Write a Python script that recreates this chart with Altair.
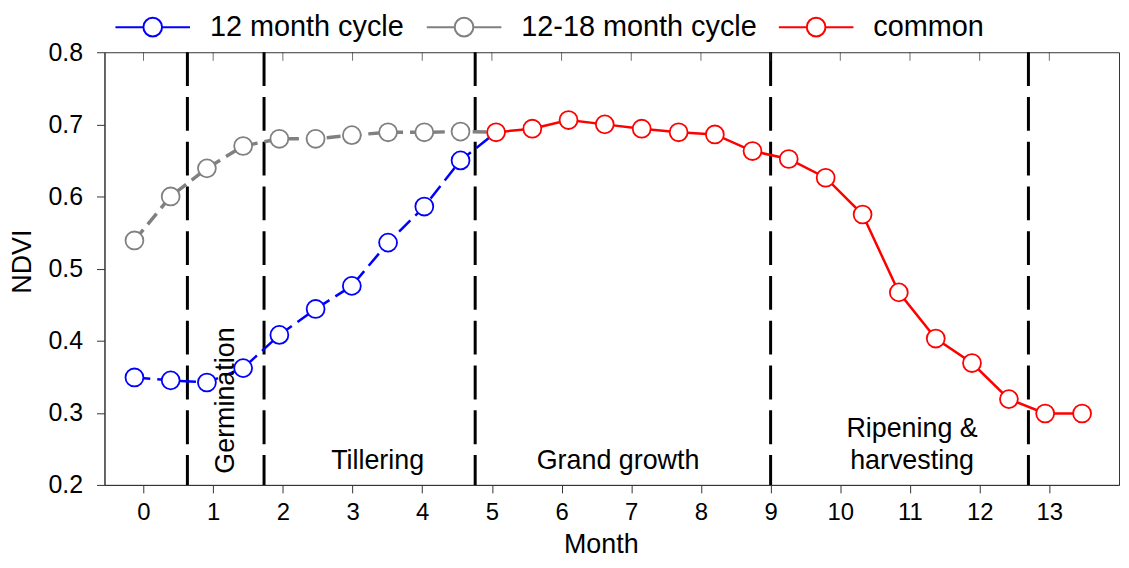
import altair as alt
import pandas as pd

# ---------------- data ----------------
series_names = ["12 month cycle", "12-18 month cycle", "common"]
series_colors = ["#0000ff", "#808080", "#ff0000"]

months_early = [-0.13, 0.39, 0.91, 1.43, 1.95, 2.47, 2.99, 3.51, 4.03, 4.55]
ndvi_12 = [0.349, 0.345, 0.342, 0.362, 0.408, 0.444, 0.476, 0.536, 0.586, 0.650]
ndvi_12_18 = [0.539, 0.600, 0.639, 0.670, 0.680, 0.680, 0.685, 0.689, 0.689, 0.690]

months_common = [5.06, 5.58, 6.10, 6.62, 7.15, 7.68, 8.20, 8.74, 9.26, 9.79,
                 10.32, 10.84, 11.37, 11.89, 12.42, 12.94, 13.47]
ndvi_common = [0.689, 0.694, 0.706, 0.700, 0.694, 0.689, 0.686, 0.663, 0.652, 0.626,
               0.575, 0.467, 0.403, 0.369, 0.319, 0.299, 0.299]

phase_bounds = [0.63, 1.73, 4.76, 9.0, 12.7]
phase_labels = ["Germination", "Tillering", "Grand growth", "Ripening &\nharvesting"]
phase_label_months = [1.18, 3.36, 6.81, 11.03]
phase_label_ndvi = [0.317, 0.233, 0.2335, 0.277]
phase_label_angle = [270, 0, 0, 0]

x_ticks = list(range(14))
y_ticks = [0.2, 0.3, 0.4, 0.5, 0.6, 0.7, 0.8]

# ---------------- tables ----------------
line_rows = []
for name, vals in [(series_names[0], ndvi_12), (series_names[1], ndvi_12_18)]:
    for i, (m, v) in enumerate(zip(months_early, vals)):
        line_rows.append({"series": name, "month": m, "ndvi": v, "idx": i})
    line_rows.append({"series": name, "month": months_common[0], "ndvi": ndvi_common[0], "idx": len(vals)})
for i, (m, v) in enumerate(zip(months_common, ndvi_common)):
    line_rows.append({"series": series_names[2], "month": m, "ndvi": v, "idx": i})
lines_df = pd.DataFrame(line_rows)

pt_rows = []
for name, ms, vals in [(series_names[1], months_early, ndvi_12_18),
                       (series_names[0], months_early, ndvi_12),
                       (series_names[2], months_common, ndvi_common)]:
    for m, v in zip(ms, vals):
        pt_rows.append({"series": name, "month": m, "ndvi": v})
points_df = pd.DataFrame(pt_rows)

bounds_df = pd.DataFrame({"month": phase_bounds})
labels_df = pd.DataFrame({"label": phase_labels, "month": phase_label_months,
                          "ndvi": phase_label_ndvi, "angle": phase_label_angle})
ticks_df = pd.DataFrame({"month": x_ticks})

FONT = "Liberation Sans"

xscale = alt.Scale(domain=[-0.56, 14.0], nice=False, zero=False)
yscale = alt.Scale(domain=[0.2, 0.8], nice=False, zero=False)
xaxis = alt.Axis(values=x_ticks, format="d", labelFontSize=24, labelPadding=8,
                 titleFontSize=27, titleY=60, titleX=499, titleBaseline="middle",
                 tickSize=8)
yaxis = alt.Axis(values=y_ticks, format=".1f", labelFontSize=25, labelPadding=14,
                 titleFontSize=27, titleX=-82, titleY=210, titleAlign="center",
                 titleBaseline="middle", tickSize=8)


def X(field="month"):
    return alt.X(f"{field}:Q", scale=xscale, axis=xaxis, title="Month")


def Y(field="ndvi"):
    return alt.Y(f"{field}:Q", scale=yscale, axis=yaxis, title="NDVI")


legend_symbol = ("M-1,0H-0.25 M0.25,0H1 "
                 "M-0.25,0A0.25,0.25 0 1,0 0.25,0A0.25,0.25 0 1,0 -0.25,0Z")
legend = alt.Legend(orient="none", legendX=10, legendY=-64, direction="horizontal",
                    title=None, symbolType=legend_symbol, symbolSize=5625,
                    symbolStrokeWidth=2, symbolFillColor="white",
                    labelFontSize=29, labelFont=FONT, labelColor="black",
                    labelOffset=19, columnPadding=18, padding=0, labelLimit=500)
color_scale = alt.Scale(domain=series_names, range=series_colors)


def S():
    return alt.Stroke("series:N", scale=color_scale, legend=legend)


rules = alt.Chart(bounds_df).mark_rule(
    color="black", strokeWidth=3, strokeDash=[34, 11]
).encode(x=X())

top_ticks = alt.Chart(ticks_df).mark_tick(
    orient="vertical", clip=True, size=17, thickness=1, color="#333"
).encode(x=X(), y=alt.Y(datum=0.8, type="quantitative", scale=yscale, axis=yaxis, title="NDVI"))

line_styles = {
    series_names[0]: dict(strokeDash=[16, 7], strokeWidth=2.5),
    series_names[1]: dict(strokeDash=[14, 7], strokeWidth=3.5),
    series_names[2]: dict(strokeWidth=2.5),
}
line_layers = []
for name in [series_names[1], series_names[0], series_names[2]]:
    line_layers.append(
        alt.Chart(lines_df).transform_filter(alt.datum.series == name)
        .mark_line(**line_styles[name])
        .encode(x=X(), y=Y(), stroke=S(), order="idx:Q")
    )

points = alt.Chart(points_df).mark_point(
    filled=True, fill="white", size=324, strokeWidth=1.8, opacity=1
).encode(x=X(), y=Y(), stroke=S())

texts = alt.Chart(labels_df).mark_text(
    font=FONT, fontSize=27, lineBreak="\n", lineHeight=32,
    align="center", baseline="middle", color="black"
).encode(x=X(), y=Y(), text="label:N", angle=alt.Angle("angle:Q", scale=None))

chart = alt.layer(rules, top_ticks, *line_layers, points, texts).properties(
    width=1020, height=435,
    padding={"left": 97, "top": 43, "right": 2, "bottom": 74},
    autosize=alt.AutoSizeParams(type="none"),
    background="white",
).configure_axis(
    labelFont=FONT, titleFont=FONT, labelColor="black", titleColor="black",
    titleFontWeight="normal", tickColor="#333", domainColor="#333",
    grid=False,
).configure_view(stroke="#333", strokeWidth=1)

chart.save("out.html", embed_options={"renderer": "svg", "actions": False})
